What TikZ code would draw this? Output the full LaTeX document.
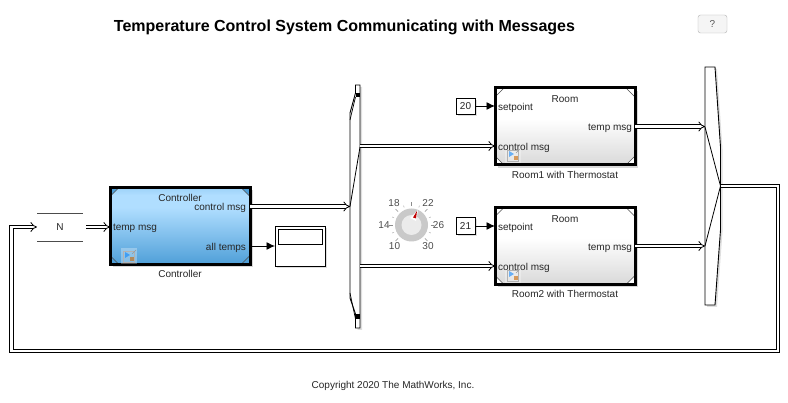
\documentclass[tikz,border=0pt]{standalone}
\usepackage{fontspec}
\setmainfont{Liberation Sans}
\usetikzlibrary{positioning,arrows.meta,shadows,calc}
\definecolor{ctrldark}{HTML}{4F9FD8}
\definecolor{ctrllight}{HTML}{B0DEFF}
\pgfdeclareverticalshading{ctrlshade}{100bp}{color(0bp)=(ctrldark); color(25bp)=(ctrldark); color(62bp)=(ctrllight); color(70bp)=(ctrllight); color(75bp)=(ctrllight!80!ctrldark); color(100bp)=(ctrllight!80!ctrldark)}
\pgfdeclareverticalshading{roomshade}{100bp}{color(0bp)=(black!15); color(25bp)=(black!15); color(55bp)=(white); color(75bp)=(white); color(100bp)=(white)}
\newcommand{\blockcorners}[2]{
  \foreach \cx/\cy/\dx/\dy in {west/north/1/1,east/north/-1/1,west/south/1/-1,east/south/-1/-1} {
    \fill [#2] (#1.\cy\space\cx) -- ++(9*\dx,0) -- ++(-9*\dx,9*\dy) -- cycle;
    \draw [black!70,line width=.6pt] ($(#1.\cy\space\cx)+(9*\dx,0)$) -- ++(-9*\dx,9*\dy);
  }
  \draw [line width=3pt] (#1.north west) rectangle (#1.south east);
}
\newcommand{\blockicon}[1]{
  \begin{scope}[shift={(#1)}]
    \fill [white,opacity=.3] (0,0) rectangle (16,16);
    \draw [black!30,line width=.4pt] (2,3) rectangle (13,14);
    \fill [blue!50!cyan,opacity=.55] (4,4) -- (9,7) -- (4,10) -- cycle;
    \fill [orange!80!black,opacity=.6] (9,9) rectangle (13,13);
    \draw [black!40,line width=.4pt] (11,6) -- (15,2);
  \end{scope}
}
\begin{document}
\begin{tikzpicture}[x=1pt,y=-1pt,font=\fontsize{10}{11}\selectfont,text=black!85,
  txt/.style={inner sep=0pt,outer sep=0pt,text height=7pt,text depth=2pt,yshift=-1.3pt},
  block/.style={inner sep=0pt,outer sep=0pt,minimum width=140pt,minimum height=77pt,
    drop shadow={shadow xshift=3pt,shadow yshift=-3pt,opacity=.3}},
  small/.style={draw=black,inner sep=0pt,outer sep=0pt,fill=white,line width=.9pt,
    drop shadow={shadow xshift=2pt,shadow yshift=-2pt,opacity=.25}},
  ghost/.style={inner sep=0pt,outer sep=0pt,minimum width=#1},
  msg/.style={double,double distance=2.6pt,line width=.8pt,-{Implies[length=7pt,width=10pt]}},
  sig/.style={line width=.9pt,-{Latex[length=8.5pt,width=8pt]}},
  muxshape/.style={draw=black,fill=white,line width=.9pt,
    drop shadow={shadow xshift=2pt,shadow yshift=-2pt,opacity=.25}}]
  \useasboundingbox (0,0) rectangle (788,403);
  \fill [white] (0,0) rectangle (788,403);

  \node (title) [inner sep=0pt,text=black,font=\fontsize{16}{18}\selectfont\bfseries] at (344.5,27) {Temperature Control System Communicating with Messages};
  \node (help) [inner sep=0pt,outer sep=0pt,minimum width=29pt,minimum height=18pt,rounded corners=2.5pt,draw=black!30,fill=black!4,text=black!65] at (712.5,24) {?};

  % feedback queue
  \node (queue) [inner sep=0pt,outer sep=0pt,minimum width=46pt,minimum height=28pt] at (60,227) {N};
  \draw [black!70,line width=.9pt] (queue.north west) -- (queue.north east);
  \draw [black!70,line width=.9pt] (queue.south west) -- (queue.south east);

  % controller
  \node (ctrl) [block,shading=ctrlshade] at (180,226) {};
  \blockcorners{ctrl}{ctrldark}
  \blockicon{121,248}
  \node (ctrlname) [txt] at (180,197.5) {Controller};
  \node (ctrlout) [txt,anchor=east] at (246,206.5) {control msg};
  \node (ctrlin) [txt,anchor=west] at (113,227) {temp msg};
  \node (ctrltemps) [txt,anchor=east] at (246,247) {all temps};
  \node (ctrlcap) [txt,below = 5pt of ctrl] {Controller};

  % scope
  \node (scope) [small,minimum width=50pt,minimum height=40pt] at (300,246) {};
  \node (screen) [draw=black,inner sep=0pt,outer sep=0pt,line width=.8pt,minimum width=44pt,minimum height=15pt] at (300,236.5) {};

  % splitter
  \filldraw [muxshape] (355.5,85) -- (360,85) -- (360,328) -- (355.5,328) -- (355.5,314) -- (350,298) -- (350,113) -- (355.5,93) -- cycle;
  \fill (355.5,93) rectangle (360,97);
  \fill (355.5,314) rectangle (360,319);
  \draw [line width=.7pt] (355.5,97) -- (350,120);
  \draw [line width=.7pt] (355.5,319) -- (350,293);
  \node (split) [ghost=10pt,minimum height=243pt] at (355,206.5) {};
  \draw [line width=.8pt] (split.west) -- (360,147);

  % rooms
  \node (roomA) [block,shading=roomshade] at (565,126.5) {};
  \blockcorners{roomA}{white}
  \blockicon{505,147}
  \node (roomAname) [txt] at (565,98.5) {Room};
  \node (roomAset) [txt,anchor=west] at (498,106.5) {setpoint};
  \node (roomAout) [txt,anchor=east] at (632,127) {temp msg};
  \node (roomActl) [txt,anchor=west] at (498,147) {control msg};
  \node (roomAcap) [txt,below = 5pt of roomA] {Room1 with Thermostat};

  \node (roomB) [block,shading=roomshade] at (565,246) {};
  \blockcorners{roomB}{white}
  \blockicon{505,267}
  \node (roomBname) [txt] at (565,218.5) {Room};
  \node (roomBset) [txt,anchor=west] at (498,226.5) {setpoint};
  \node (roomBout) [txt,anchor=east] at (632,247) {temp msg};
  \node (roomBctl) [txt,anchor=west] at (498,267) {control msg};
  \node (roomBcap) [txt,below = 5pt of roomB] {Room2 with Thermostat};

  \node (cstA) [small,minimum width=19pt,minimum height=16pt] at (465.5,106) {20};
  \node (cstB) [small,minimum width=19pt,minimum height=17pt] at (465.5,226) {21};

  % knob
  \fill [black!21] (411.5,225) circle (16.5);
  \fill [black!8] (411.5,225) circle (10);
  \fill [white] (418,210) -- (410,218) -- (416,221) -- cycle;
  \fill [red!75!black] (417,211) -- (413,217.5) -- (416,218.5) -- cycle;
  \foreach \ang in {225,180,135,90,45,0,-45}
    \draw [black!45,line width=.6pt] (411.5,225)++({cos(\ang)*19},{-sin(\ang)*19}) -- ++({cos(\ang)*3.5},{-sin(\ang)*3.5});
  \foreach \ang in {202.5,157.5,112.5,67.5,22.5,-22.5}
    \draw [black!30,line width=.5pt] (411.5,225)++({cos(\ang)*19},{-sin(\ang)*19}) -- ++({cos(\ang)*2},{-sin(\ang)*2});
  \node (knobA) [txt,text=black!70] at (394,203) {18};
  \node (knobB) [txt,text=black!70] at (428,203) {22};
  \node (knobC) [txt,text=black!70] at (384,225) {14};
  \node (knobD) [txt,text=black!70] at (438.5,225) {26};
  \node (knobE) [txt,text=black!70] at (394.5,246) {10};
  \node (knobF) [txt,text=black!70] at (428,246) {30};

  % merger
  \filldraw [muxshape] (705,67) -- (715,67) -- (720.5,147) -- (720.5,230) -- (715,305) -- (705,305) -- cycle;
  \node (merge) [ghost=15.5pt,minimum height=238pt] at (712.75,186) {};
  \draw [line width=.8pt] (705,127) -- (merge.east) -- (705,246);

  % connections
  \draw [msg] (queue.east) ++(3,0) -- (queue.east -| ctrl.west);
  \draw [msg] (ctrl.east |- split.west) -- (split.west);
  \draw [sig] (ctrl.east |- scope.west) -- (scope.west);
  \draw [sig] (cstA) -- (cstA -| roomA.west);
  \draw [sig] (cstB) -- (cstB -| roomB.west);
  \draw [msg] (split.east |- 0,146) -- (roomA.west |- 0,146);
  \draw [msg] (split.east |- 0,266) -- (roomB.west |- 0,266);
  \draw [msg] (roomA.east) -- (roomA.east -| merge.west);
  \draw [msg] (roomB.east) -- (roomB.east -| merge.west);
  \draw [msg] (merge.east) -- (778,186) -- (778,351) -- (11.5,351) -- (11.5,227) -- (queue.west);

  \node (copy) [txt] at (393,384.5) {Copyright 2020 The MathWorks, Inc.};
\end{tikzpicture}
\end{document}
